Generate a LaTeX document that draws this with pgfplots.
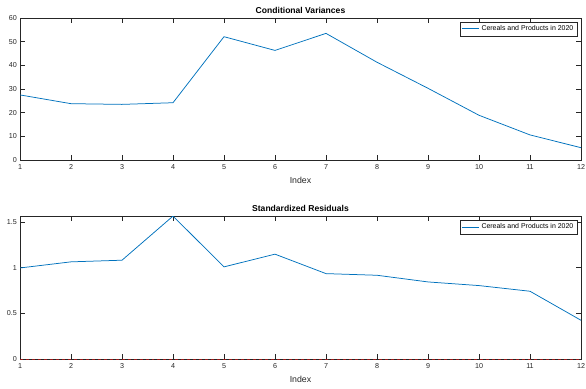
\documentclass[border=0pt]{standalone}
\usepackage{pgfplots}
\pgfplotsset{compat=1.18}
\usepackage{fontspec}
\setmainfont{Liberation Sans}
\definecolor{mblue}{rgb}{0,0.447,0.741}
\definecolor{mgray}{rgb}{0.15,0.15,0.15}
\definecolor{mred}{rgb}{0.6,0.1,0.1}
\pgfplotsset{
  mstyle/.style={
    scale only axis, width=561bp, height=142bp,
    xmin=1, xmax=12, xtick={1,...,12},
    axis line style={mgray, line width=0.5bp},
    tick style={mgray, line width=0.5bp},
    tick align=inside, major tick length=5bp,
    /pgf/number format/assume math mode=true,
    tick label style={font=\fontsize{7.2}{8}\selectfont, text=mgray},
    xticklabel style={anchor=north, inner sep=0pt, yshift=-4bp},
    yticklabel style={anchor=east, inner sep=0pt, xshift=-3bp},
    xlabel={Index},
    xlabel style={font=\fontsize{8.8}{10}\selectfont, text=mgray, at={(axis description cs:0.5,0)}, anchor=north, inner sep=0pt, yshift=-17bp},
    title style={font=\bfseries\fontsize{8.6}{10}\selectfont, at={(axis description cs:0.5,1)}, anchor=south, inner sep=0pt, yshift=-2bp},
    legend style={at={(axis description cs:0.993,0.972)}, anchor=north east, draw=mgray, font=\fontsize{7}{8}\selectfont, inner sep=1.5bp, row sep=0pt},
    legend cell align=left,
    legend image post style={line width=0.9bp},
    grid=none,
  }
}
\begin{document}
\begin{tikzpicture}
\begin{axis}[mstyle, at={(0,0)}, anchor=north west,
  title={Conditional Variances},
  ymin=0, ymax=60, ytick={0,10,...,60}]
\addplot[mblue, line width=0.75bp] coordinates {
(1,27.5)(2,23.8)(3,23.5)(4,24.2)(5,52.1)(6,46.3)(7,53.5)(8,41.3)(9,30.3)(10,18.9)(11,10.6)(12,5.2)};
\addlegendentry{Cereals and Products in 2020}
\end{axis}
\begin{axis}[mstyle, at={(0,-198bp)}, anchor=north west, height=143bp,
  title={Standardized Residuals},
  ymin=0, ymax=1.566, ytick={0,0.5,1,1.5}, yticklabels={0,0.5,1,1.5}]
\addplot[mblue, line width=0.75bp] coordinates {
(1,0.997)(2,1.064)(3,1.082)(4,1.565)(5,1.009)(6,1.148)(7,0.935)(8,0.917)(9,0.844)(10,0.804)(11,0.742)(12,0.424)};
\addlegendentry{Cereals and Products in 2020}
\addplot[mred, dashed, line width=0.5bp, forget plot] coordinates {(1,0)(12,0)};
\end{axis}
\pgfresetboundingbox
\useasboundingbox (-20bp,18bp) rectangle (566bp,-371bp);
\end{tikzpicture}
\end{document}
